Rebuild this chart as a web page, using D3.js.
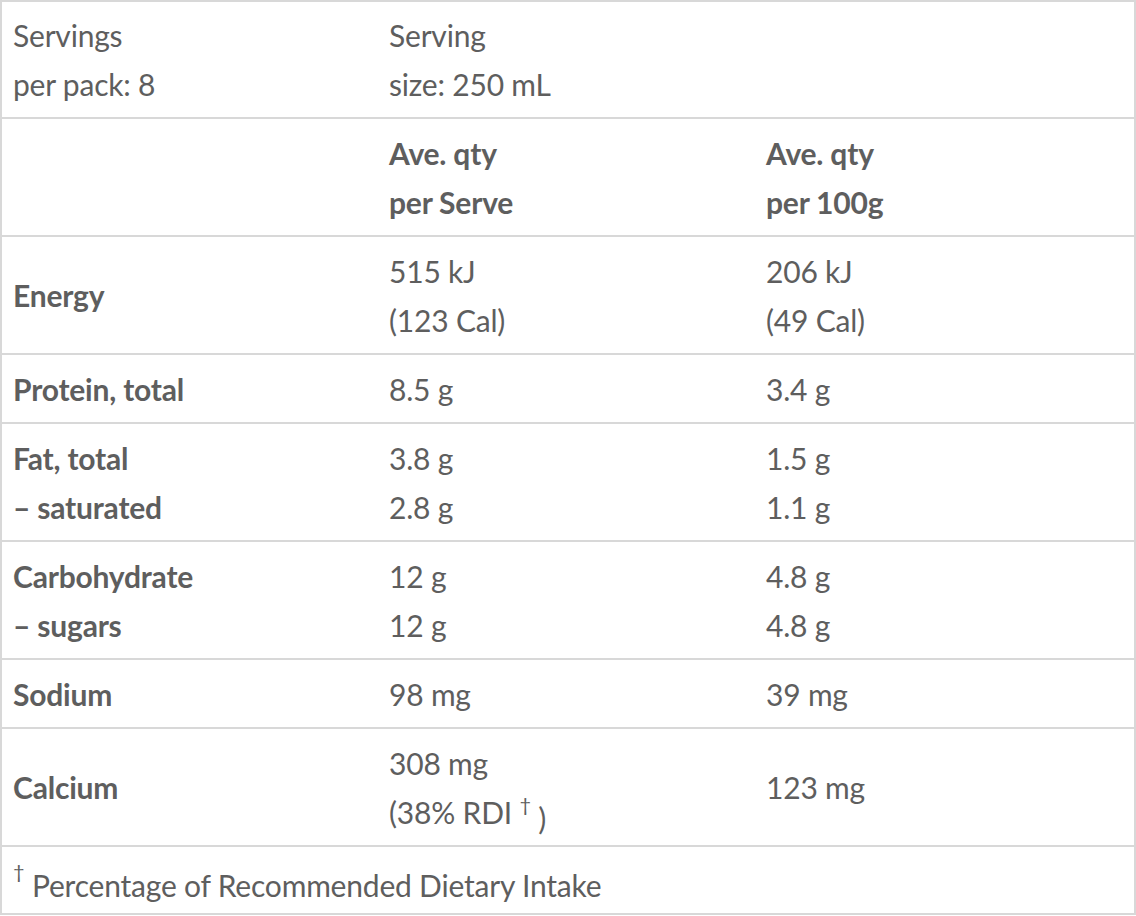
<!DOCTYPE html>
<html><head><meta charset="utf-8">
<script src="https://cdn.jsdelivr.net/npm/d3@7"></script>
<style>body{margin:0;background:#fff}</style>
</head><body>
<script>
// table content
const headTop = [["Servings", "per pack: 8"], ["Serving", "size: 250 mL"], []];
const colHeads = [[], ["Ave. qty", "per Serve"], ["Ave. qty", "per 100g"]];
const nutrients = [["Energy"], ["Protein, total"], ["Fat, total", "– saturated"], ["Carbohydrate", "– sugars"], ["Sodium"], ["Calcium"]];
const perServe = [["515 kJ", "(123 Cal)"], ["8.5 g"], ["3.8 g", "2.8 g"], ["12 g", "12 g"], ["98 mg"], ["308 mg", "(38% RDI † )"]];
const per100g = [["206 kJ", "(49 Cal)"], ["3.4 g"], ["1.5 g", "1.1 g"], ["4.8 g", "4.8 g"], ["39 mg"], ["123 mg"]];
const footnote = "† Percentage of Recommended Dietary Intake";

const W = 1136, H = 916, lineH = 49, pad = 10, fs = 30;
const colX = [13, 389, 766];
const color = "#5e5e5e", border = "#d8d8d8";

const rows = [
  {cells: headTop, bold: [false, false, false]},
  {cells: colHeads, bold: [true, true, true]},
  ...nutrients.map((n, i) => ({cells: [n, perServe[i], per100g[i]], bold: [true, false, false]}))
];

const svg = d3.select("body").append("svg").attr("width", W).attr("height", H)
  .style("font-family", "Lato, 'Open Sans', sans-serif").style("font-size", fs + "px")
  .style("letter-spacing", "-0.2px");

let y = 0;
rows.forEach(r => {
  const n = d3.max(r.cells, c => c.length) || 1;
  const h = n * lineH + 2 * pad;
  r.cells.forEach((c, ci) => {
    const off = (n - c.length) * lineH / 2;
    c.forEach((t, li) => {
      const cy = y + pad + off + li * lineH + lineH / 2 + 1.5;
      const txt = svg.append("text").attr("x", colX[ci]).attr("y", cy).attr("dy", "0.35em")
        .attr("fill", color).attr("font-weight", r.bold[ci] ? 700 : 400);
      if (t.includes("†")) {
        const [a, b] = t.split("†");
        txt.append("tspan").text(a);
        txt.append("tspan").text("†").attr("font-size", "20px").attr("dy", "-0.6em");
        txt.append("tspan").text(b).attr("dy", "0.6em");
      } else txt.text(t);
    });
  });
  y += h;
  svg.append("line").attr("x1", 0).attr("x2", W).attr("y1", y).attr("y2", y).attr("stroke", border).attr("stroke-width", 2);
});

// footnote
const ft = svg.append("text").attr("x", colX[0]).attr("y", y + pad + lineH / 2 + 3).attr("dy", "0.35em").attr("fill", color);
ft.append("tspan").text("†").attr("font-size", "20px").attr("dy", "-0.25em");
ft.append("tspan").text(footnote.slice(1)).attr("dy", "0.6em");

svg.append("rect").attr("x", 1).attr("y", 1).attr("width", W - 2).attr("height", H - 3)
  .attr("fill", "none").attr("stroke", border).attr("stroke-width", 2);
</script>
</body></html>
